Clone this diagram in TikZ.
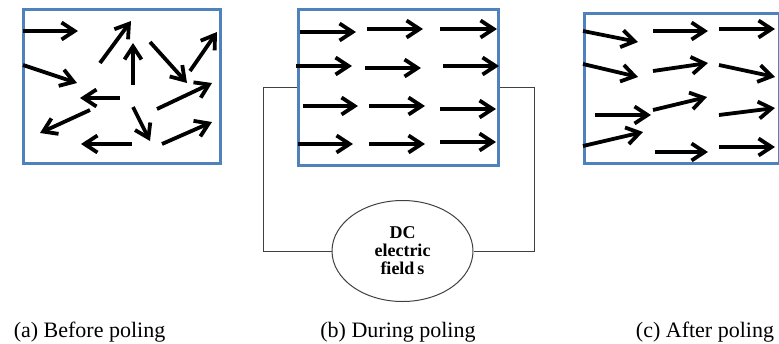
\documentclass[tikz,border=0pt]{standalone}
\usepackage{fontspec}
\setmainfont{Liberation Serif}
\usetikzlibrary{arrows.meta,shapes.geometric}
\definecolor{panelblue}{HTML}{4F81BD}
\tikzset{
  panel/.style={draw=panelblue,line width=3pt,inner sep=0pt},
  dipole/.style={line width=3.8pt,-{Straight Barb[length=13pt,width=17pt]}},
  wire/.style={draw=black!75,line width=1pt},
  caption/.style={anchor=base,font=\fontsize{22}{26}\selectfont},
}
\begin{document}
\begin{tikzpicture}[x=1pt,y=-1pt]
\useasboundingbox (0,0) rectangle (779,343);
% the three samples
\node[panel,minimum width=197pt,minimum height=154pt] (boxa) at (121.5,86) {};
\node[panel,minimum width=200pt,minimum height=156pt] (boxb) at (398,87) {};
\node[panel,minimum width=195pt,minimum height=150pt] (boxc) at (682,88) {};
% (a) random dipoles
\foreach \xa/\ya/\xb/\yb in {23/31/78/31, 23/65/77/83, 100/63/131/21, 133/85/133/43,
  150/42/187/83, 190/71/217/32, 120/98/80/98, 157/109/212/83, 90/110/40/133,
  133/107/150/141, 132/144/81/144, 162/144/212/122}
  \draw[dipole] (\xa,\ya) -- (\xb,\yb);
% (b) aligned dipoles
\foreach \xa/\ya/\xb/\yb in {300/32/356/32, 367/29/423/29, 440/29/497/29,
  296/66/352/66, 365/68/421/68, 443/66/499/66,
  303/106/358/106, 369/106/425/106, 440/109/496/109,
  298/144/353/144, 369/144/425/144, 440/142/496/142}
  \draw[dipole] (\xa,\ya) -- (\xb,\yb);
% (c) remaining order
\foreach \xa/\ya/\xb/\yb in {583/31/638/42, 653/31/708/31, 719/29/775/29,
  583/64/638/77, 653/71/708/63, 719/65/775/77,
  595/115/651/115, 653/110/707/97, 719/115/775/108,
  583/146/643/132, 655/152/708/152, 719/147/775/147}
  \draw[dipole] (\xa,\ya) -- (\xb,\yb);
% source and wiring
\node[draw=black!75,line width=1pt,ellipse,minimum width=141pt,minimum height=101pt,
  inner sep=0pt,align=center,font=\bfseries\fontsize{18}{18}\selectfont] (dc) at (402.5,251)
  {DC\\electric\\field\,s};
\draw[wire] (boxb.west) -- ++(-33,0) |- (dc.west);
\draw[wire] (boxb.east) -- ++(35,0) |- (dc.east);
% captions
\node[caption] (capa) at (89.5,337) {(a) Before poling};
\node[caption] (capb) at (398,337) {(b) During poling};
\node[caption] (capc) at (705,337) {(c) After poling};
\end{tikzpicture}
\end{document}
